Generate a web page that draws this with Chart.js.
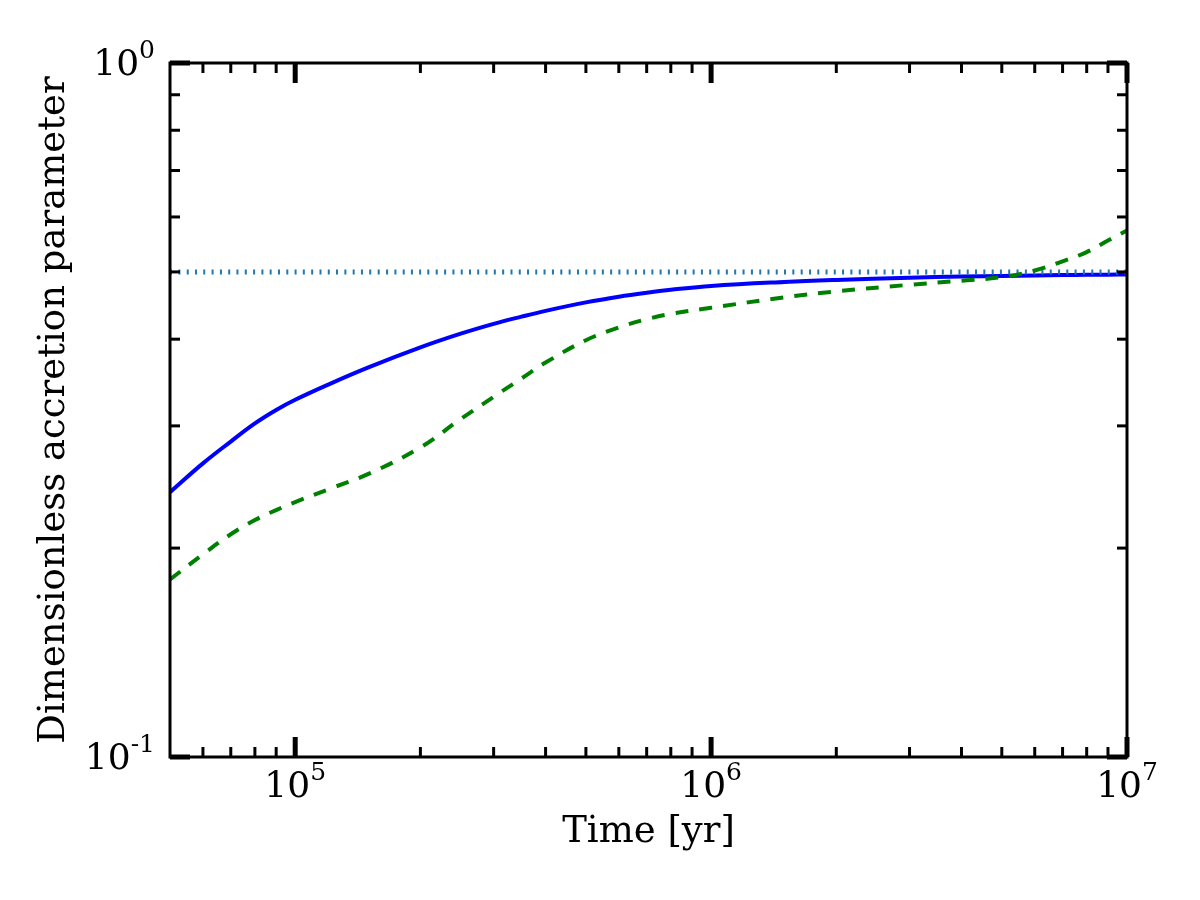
<!DOCTYPE html>
<html lang="en">
<head>
<meta charset="UTF-8">
<title>Dimensionless accretion parameter</title>
<script src="https://cdn.jsdelivr.net/npm/chart.js"></script>
<style>
  body { margin: 0; background: #fff; }
  canvas { display: block; }
</style>
</head>
<body>
<canvas id="chart" width="1200" height="900"></canvas>
<script>
// time [yr] sampled along the curves
const times = [5e4, 6e4, 7e4, 8e4, 9e4, 1e5, 1.2e5, 1.5e5, 2e5, 2.5e5, 3e5, 3.5e5, 4e5, 5e5, 6e5, 7e5, 8e5,
  1e6, 1.5e6, 2e6, 3e6, 4e6, 5e6, 6e6, 7e6, 8e6, 9e6, 1e7];
const solidCurve = [0.2408, 0.2649, 0.2848, 0.3024, 0.3162, 0.3271, 0.3440, 0.3642, 0.3892, 0.4073,
  0.4208, 0.4310, 0.4394, 0.4519, 0.4606, 0.4667, 0.4712, 0.4772, 0.4836, 0.4869, 0.4905, 0.4923,
  0.4934, 0.4942, 0.4949, 0.4952, 0.4955, 0.4958];
const dashedCurve = [0.1802, 0.1959, 0.2094, 0.2195, 0.2269, 0.2330, 0.2430, 0.2558, 0.2793, 0.3069,
  0.3303, 0.3511, 0.3701, 0.3986, 0.4158, 0.4274, 0.4350, 0.4439, 0.4596, 0.4687, 0.4791, 0.4856,
  0.4915, 0.5023, 0.5179, 0.5340, 0.5550, 0.5736];
const refTimes = [5e4, 1e7];
const refLevel = [0.5, 0.5];

const xMajorTicks = [1e5, 1e6, 1e7];
const xTickExp = ['5', '6', '7'];
const yMajorTicks = [0.1, 1];
const yTickExp = ['-1', '0'];

// minor ticks 2..9 per decade, inside the axis range
const xMinorTicks = [];
[1e4, 1e5, 1e6].forEach(d => { for (let k = 2; k <= 9; k++) if (k * d > 5e4) xMinorTicks.push(k * d); });
const yMinorTicks = [0.2, 0.3, 0.4, 0.5, 0.6, 0.7, 0.8, 0.9];

const toPoints = (xs, ys) => xs.map((t, i) => ({ x: t, y: ys[i] }));
const serif = 'DejaVu Serif';

// matplotlib-like box with inward ticks on all four sides, and 10^n labels
const frameTicks = {
  id: 'frameTicks',
  afterDatasetsDraw(chart) {
    const { ctx, chartArea: a, scales: { x, y } } = chart;
    ctx.save();
    ctx.strokeStyle = '#000';
    ctx.lineCap = 'butt';
    const line = (x1, y1, x2, y2) => { ctx.beginPath(); ctx.moveTo(x1, y1); ctx.lineTo(x2, y2); ctx.stroke(); };
    const xt = (vals, len, w) => {
      ctx.lineWidth = w;
      vals.forEach(v => {
        const p = x.getPixelForValue(v);
        line(p, a.bottom, p, a.bottom - len);
        line(p, a.top, p, a.top + len);
      });
    };
    const yt = (vals, len, w) => {
      ctx.lineWidth = w;
      vals.forEach(v => {
        const p = y.getPixelForValue(v);
        line(a.left, p, a.left + len, p);
        line(a.right, p, a.right - len, p);
      });
    };
    xt(xMinorTicks, 10, 3);
    yt(yMinorTicks, 10, 3);
    xt(xMajorTicks, 20, 5);
    yt(yMajorTicks, 20, 5);
    ctx.lineWidth = 3;
    ctx.strokeRect(a.left, a.top, a.right - a.left, a.bottom - a.top);

    // tick labels: "10" with a raised exponent
    const baseFont = '36px "' + serif + '"';
    const expFont = '25px "' + serif + '"';
    ctx.fillStyle = '#000';
    ctx.textBaseline = 'alphabetic';
    ctx.textAlign = 'left';
    const label = (exp, left, baseline) => {
      ctx.font = baseFont;
      const wb = ctx.measureText('10').width;
      ctx.fillText('10', left, baseline);
      ctx.font = expFont;
      ctx.fillText(exp, left + wb, baseline - 17);
    };
    const widthOf = exp => {
      ctx.font = baseFont;
      const wb = ctx.measureText('10').width;
      ctx.font = expFont;
      return wb + ctx.measureText(exp).width;
    };
    xMajorTicks.forEach((v, i) => {
      const p = x.getPixelForValue(v);
      label(xTickExp[i], p - widthOf(xTickExp[i]) / 2, a.bottom + 40);
    });
    yMajorTicks.forEach((v, i) => {
      const p = y.getPixelForValue(v);
      label(yTickExp[i], a.left - 15 - widthOf(yTickExp[i]), p + 12);
    });
    ctx.restore();
  }
};

new Chart(document.getElementById('chart'), {
  type: 'line',
  data: {
    datasets: [
      {
        data: toPoints(times, dashedCurve),
        borderColor: '#008000',
        borderWidth: 4,
        borderDash: [13, 11],
        order: 0
      },
      {
        data: toPoints(refTimes, refLevel),
        borderColor: '#1f77b4',
        borderWidth: 5,
        borderDash: [2, 6.3],
        order: 1
      },
      {
        data: toPoints(times, solidCurve),
        borderColor: '#0000ff',
        borderWidth: 4,
        order: 2
      }
    ]
  },
  options: {
    responsive: false,
    animation: false,
    events: [],
    layout: { padding: { left: 0, top: 63, right: 73, bottom: 0 } },
    elements: {
      point: { radius: 0 },
      line: { fill: false, tension: 0.4, borderCapStyle: 'butt' }
    },
    plugins: { legend: { display: false }, tooltip: { enabled: false } },
    scales: {
      x: {
        type: 'logarithmic',
        min: 5e4,
        max: 1e7,
        grid: { display: false, drawTicks: false },
        border: { display: false },
        afterBuildTicks: s => { s.ticks = xMajorTicks.map(v => ({ value: v })); },
        afterFit: s => { s.height = 143; },
        ticks: { display: false },
        title: {
          display: true,
          text: 'Time [yr]',
          color: '#000',
          font: { family: serif, size: 37 },
          padding: { top: 0, bottom: 45 }
        }
      },
      y: {
        type: 'logarithmic',
        min: 0.1,
        max: 1,
        grid: { display: false, drawTicks: false },
        border: { display: false },
        afterBuildTicks: s => { s.ticks = yMajorTicks.map(v => ({ value: v })); },
        afterFit: s => { s.width = 170; },
        ticks: { display: false },
        title: {
          display: true,
          text: 'Dimensionless accretion parameter',
          color: '#000',
          font: { family: serif, size: 37 },
          padding: { top: 32, bottom: 0 }
        }
      }
    }
  },
  plugins: [frameTicks]
});
</script>
</body>
</html>
